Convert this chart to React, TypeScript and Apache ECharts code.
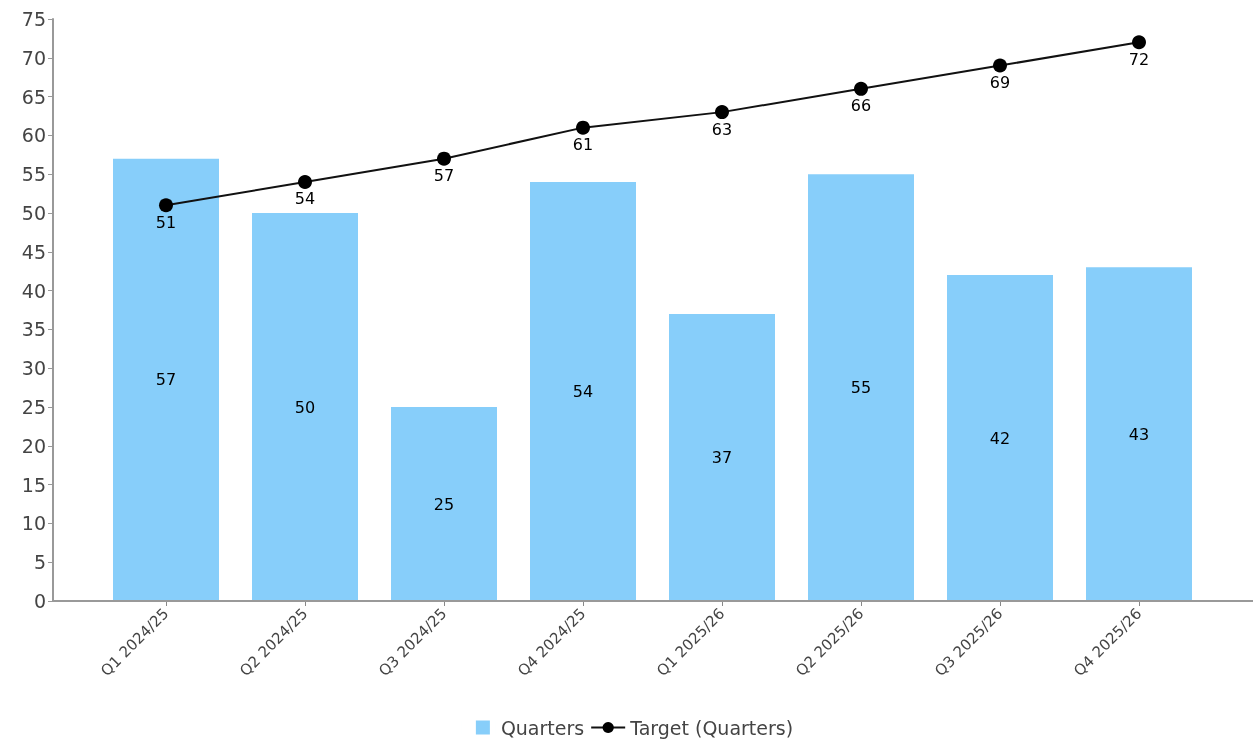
import React, { useEffect, useRef } from "react";
import * as echarts from "echarts";

const categories = [
  "Q1 2024/25",
  "Q2 2024/25",
  "Q3 2024/25",
  "Q4 2024/25",
  "Q1 2025/26",
  "Q2 2025/26",
  "Q3 2025/26",
  "Q4 2025/26",
];
const quarters = [57, 50, 25, 54, 37, 55, 42, 43];
const target = [51, 54, 57, 61, 63, 66, 69, 72];

const FONT = "DejaVu Sans";

export default function App() {
  const ref = useRef<HTMLDivElement>(null);
  useEffect(() => {
    if (!ref.current) return;
    const chart = echarts.init(ref.current, undefined, { renderer: "svg" });
    chart.setOption({
      animation: false,
      textStyle: { fontFamily: FONT },
      grid: { left: 96.5, right: 46.5, top: 19, bottom: 149, containLabel: false },
      legend: {
        bottom: 8,
        left: "center",
        itemGap: 6,
        itemWidth: 34,
        itemHeight: 14,
        textStyle: { fontSize: 19, color: "#444", fontFamily: FONT },
        data: [
          {
            name: "Quarters",
            icon: "path://M0,0h0.01v14h-0.01z M14,0h14v14h-14z M33.99,0h0.01v14h-0.01z",
            itemStyle: { color: "#87CEFA" },
          },
          { name: "Target (Quarters)" },
        ],
      },
      xAxis: {
        type: "category",
        data: categories,
        axisLine: { show: false },
        axisTick: { show: true, alignWithLabel: true, length: 5, lineStyle: { color: "#888" } },
        axisLabel: {
          rotate: 45,
          interval: 0,
          fontSize: 15,
          color: "#444",
          margin: 10,
          fontFamily: FONT,
        },
      },
      yAxis: {
        type: "value",
        min: 0,
        max: 75,
        interval: 5,
        offset: 43.5,
        splitLine: { show: false },
        axisLine: { show: true, lineStyle: { color: "#999", width: 2 } },
        axisTick: { show: true, length: 5, lineStyle: { color: "#999" } },
        axisLabel: { fontSize: 19, color: "#444", margin: 7, fontFamily: FONT },
      },
      graphic: [
        {
          type: "line",
          shape: { x1: 53, y1: 601, x2: 1253, y2: 601 },
          style: { stroke: "#999", lineWidth: 2 },
          z: 10,
        },
      ],
      series: [
        {
          name: "Quarters",
          type: "bar",
          data: quarters,
          barWidth: 106,
          itemStyle: { color: "#87CEFA" },
          label: {
            show: true,
            position: "inside",
            color: "#000",
            fontSize: 16,
            fontFamily: FONT,
          },
        },
        {
          name: "Target (Quarters)",
          type: "line",
          data: target,
          symbol: "circle",
          symbolSize: 14,
          itemStyle: { color: "#000" },
          lineStyle: { color: "#111", width: 2 },
          label: {
            show: true,
            position: "bottom",
            distance: 2,
            color: "#000",
            fontSize: 16,
            fontFamily: FONT,
          },
          z: 5,
        },
      ],
    });
    return () => chart.dispose();
  }, []);
  return (
    <div
      ref={ref}
      style={{ position: "fixed", left: 0, top: 0, width: 1255, height: 750 }}
    />
  );
}
